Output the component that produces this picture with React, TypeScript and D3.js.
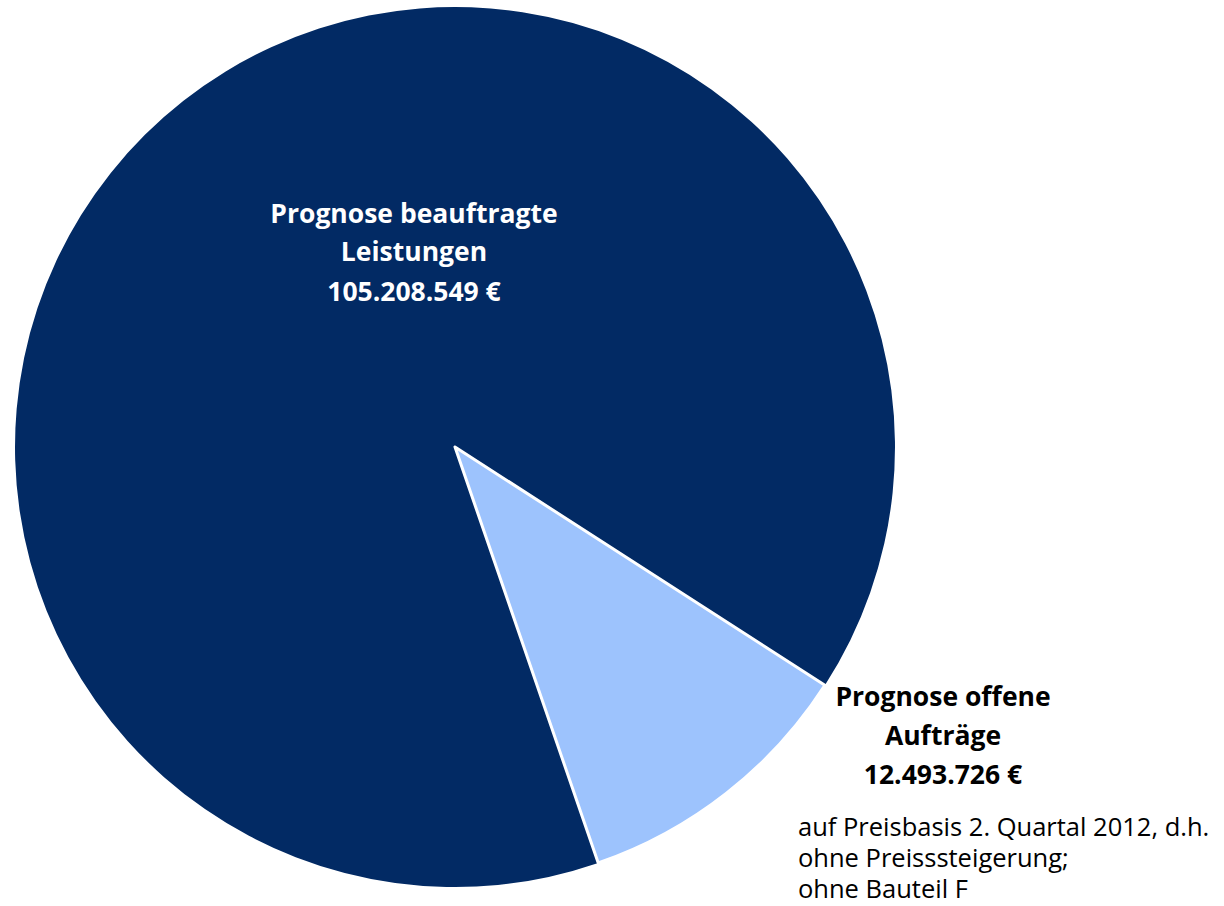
import React from "react";
import * as d3 from "d3";

const categories = ["Prognose beauftragte Leistungen", "Prognose offene Aufträge"];
const values = [105208549, 12493726];
const valueLabels = ["105.208.549 €", "12.493.726 €"];
const colors = ["#022A64", "#9DC3FD"];
const footnote = ["auf Preisbasis 2. Quartal 2012, d.h.", "ohne Preisssteigerung;", "ohne Bauteil F"];

const W = 1224;
const H = 906;
const cx = 455;
const cy = 447;
const R = 440;

export default function App() {
  const startDeg = 161;
  const pie = d3
    .pie<number>()
    .sort(null)
    .startAngle((startDeg * Math.PI) / 180)
    .endAngle(((startDeg + 360) * Math.PI) / 180);
  const arcs = pie(values);
  const arc = d3.arc<d3.PieArcDatum<number>>().innerRadius(0).outerRadius(R);
  const font = "'Open Sans', sans-serif";
  return (
    <svg width={W} height={H} style={{ position: "absolute", left: 0, top: 0, background: "#fff" }}>
      <g transform={`translate(${cx},${cy})`}>
        {arcs.map((a, i) => (
          <path
            key={i}
            d={arc(a) || ""}
            fill={colors[i]}
            stroke={i === 1 ? "#ffffff" : "none"}
            strokeWidth={i === 1 ? 3 : 0}
            strokeLinejoin="round"
          />
        ))}
      </g>
      <text
        textAnchor="middle"
        fill="#ffffff"
        fontFamily={font}
        fontWeight="bold"
        fontSize={26.5}
      >
        <tspan x={414} y={223}>Prognose beauftragte</tspan>
        <tspan x={414} y={261}>Leistungen</tspan>
        <tspan x={414} y={301}>{valueLabels[0]}</tspan>
      </text>
      <text textAnchor="middle" fill="#000000" fontFamily={font} fontWeight="bold" fontSize={26.5}>
        <tspan x={943} y={706}>Prognose offene</tspan>
        <tspan x={943} y={745}>Aufträge</tspan>
        <tspan x={943} y={784}>{valueLabels[1]}</tspan>
      </text>
      <text fill="#000000" fontFamily={font} fontSize={25.5}>
        {footnote.map((t, i) => (
          <tspan key={i} x={798} y={836 + i * 31}>
            {t}
          </tspan>
        ))}
      </text>
      <title>{categories.join(" / ")}</title>
    </svg>
  );
}
